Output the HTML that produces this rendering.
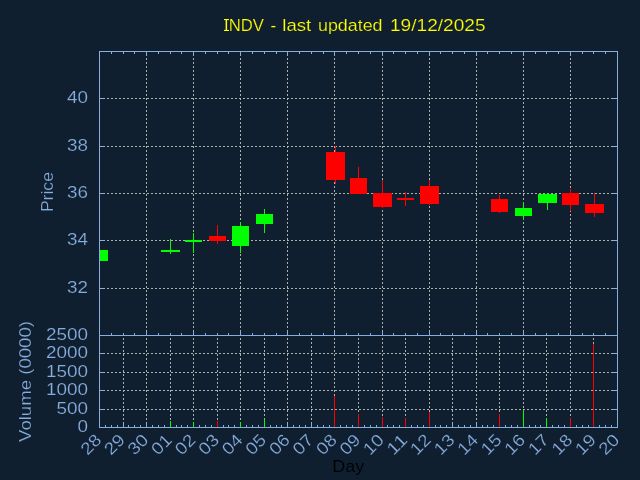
<!DOCTYPE html>
<html><head><meta charset="utf-8"><style>
html,body{margin:0;padding:0;background:#101f30;width:640px;height:480px;overflow:hidden;}
svg{display:block;will-change:transform;font-family:"Liberation Sans", sans-serif;}
</style></head><body>
<svg width="640" height="480" viewBox="0 0 640 480" shape-rendering="crispEdges">
<rect x="0" y="0" width="640" height="480" fill="#101f30"/>
<g stroke="#b0b0ab" stroke-width="1" stroke-dasharray="2 2"><line x1="99" y1="288.5" x2="617" y2="288.5"/><line x1="99" y1="240.5" x2="617" y2="240.5"/><line x1="99" y1="193.5" x2="617" y2="193.5"/><line x1="99" y1="146.5" x2="617" y2="146.5"/><line x1="99" y1="98.5" x2="617" y2="98.5"/><line x1="146.5" y1="51" x2="146.5" y2="335" stroke-dashoffset="1"/><line x1="193.5" y1="51" x2="193.5" y2="335" stroke-dashoffset="1"/><line x1="240.5" y1="51" x2="240.5" y2="335" stroke-dashoffset="1"/><line x1="287.5" y1="51" x2="287.5" y2="335" stroke-dashoffset="1"/><line x1="334.5" y1="51" x2="334.5" y2="335" stroke-dashoffset="1"/><line x1="382.5" y1="51" x2="382.5" y2="335" stroke-dashoffset="1"/><line x1="429.5" y1="51" x2="429.5" y2="335" stroke-dashoffset="1"/><line x1="476.5" y1="51" x2="476.5" y2="335" stroke-dashoffset="1"/><line x1="523.5" y1="51" x2="523.5" y2="335" stroke-dashoffset="1"/><line x1="570.5" y1="51" x2="570.5" y2="335" stroke-dashoffset="1"/><line x1="99" y1="409.5" x2="617" y2="409.5"/><line x1="99" y1="390.5" x2="617" y2="390.5"/><line x1="99" y1="372.5" x2="617" y2="372.5"/><line x1="99" y1="353.5" x2="617" y2="353.5"/><line x1="123.5" y1="335" x2="123.5" y2="427" stroke-dashoffset="1"/><line x1="146.5" y1="335" x2="146.5" y2="427" stroke-dashoffset="1"/><line x1="170.5" y1="335" x2="170.5" y2="427" stroke-dashoffset="1"/><line x1="193.5" y1="335" x2="193.5" y2="427" stroke-dashoffset="1"/><line x1="217.5" y1="335" x2="217.5" y2="427" stroke-dashoffset="1"/><line x1="240.5" y1="335" x2="240.5" y2="427" stroke-dashoffset="1"/><line x1="264.5" y1="335" x2="264.5" y2="427" stroke-dashoffset="1"/><line x1="287.5" y1="335" x2="287.5" y2="427" stroke-dashoffset="1"/><line x1="311.5" y1="335" x2="311.5" y2="427" stroke-dashoffset="1"/><line x1="334.5" y1="335" x2="334.5" y2="427" stroke-dashoffset="1"/><line x1="358.5" y1="335" x2="358.5" y2="427" stroke-dashoffset="1"/><line x1="382.5" y1="335" x2="382.5" y2="427" stroke-dashoffset="1"/><line x1="405.5" y1="335" x2="405.5" y2="427" stroke-dashoffset="1"/><line x1="429.5" y1="335" x2="429.5" y2="427" stroke-dashoffset="1"/><line x1="452.5" y1="335" x2="452.5" y2="427" stroke-dashoffset="1"/><line x1="476.5" y1="335" x2="476.5" y2="427" stroke-dashoffset="1"/><line x1="499.5" y1="335" x2="499.5" y2="427" stroke-dashoffset="1"/><line x1="523.5" y1="335" x2="523.5" y2="427" stroke-dashoffset="1"/><line x1="546.5" y1="335" x2="546.5" y2="427" stroke-dashoffset="1"/><line x1="570.5" y1="335" x2="570.5" y2="427" stroke-dashoffset="1"/><line x1="593.5" y1="335" x2="593.5" y2="427" stroke-dashoffset="1"/></g>
<rect x="100" y="250" width="8" height="11" fill="#00ff00"/>
<rect x="170" y="239" width="1" height="15" fill="#00ff00"/>
<rect x="161" y="250" width="19" height="2" fill="#00ff00"/>
<rect x="193" y="233" width="1" height="20" fill="#00ff00"/>
<rect x="185" y="240" width="17" height="2" fill="#00ff00"/>
<rect x="217" y="225" width="1" height="19" fill="#ff0000"/>
<rect x="209" y="236" width="17" height="5" fill="#ff0000"/>
<rect x="240" y="222" width="1" height="31" fill="#00ff00"/>
<rect x="232" y="226" width="17" height="20" fill="#00ff00"/>
<rect x="264" y="209" width="1" height="24" fill="#00ff00"/>
<rect x="256" y="214" width="17" height="10" fill="#00ff00"/>
<rect x="335" y="146" width="1" height="38" fill="#ff0000"/>
<rect x="326" y="152" width="19" height="28" fill="#ff0000"/>
<rect x="358" y="167" width="1" height="27" fill="#ff0000"/>
<rect x="350" y="178" width="17" height="16" fill="#ff0000"/>
<rect x="382" y="180" width="1" height="28" fill="#ff0000"/>
<rect x="373" y="193" width="19" height="14" fill="#ff0000"/>
<rect x="405" y="192" width="1" height="14" fill="#ff0000"/>
<rect x="397" y="198" width="17" height="2" fill="#ff0000"/>
<rect x="429" y="180" width="1" height="25" fill="#ff0000"/>
<rect x="420" y="186" width="19" height="18" fill="#ff0000"/>
<rect x="499" y="195" width="1" height="18" fill="#ff0000"/>
<rect x="491" y="199" width="17" height="13" fill="#ff0000"/>
<rect x="523" y="202" width="1" height="18" fill="#00ff00"/>
<rect x="515" y="208" width="17" height="8" fill="#00ff00"/>
<rect x="547" y="193" width="1" height="17" fill="#00ff00"/>
<rect x="538" y="194" width="19" height="9" fill="#00ff00"/>
<rect x="570" y="189" width="1" height="22" fill="#ff0000"/>
<rect x="562" y="193" width="17" height="12" fill="#ff0000"/>
<rect x="594" y="193" width="1" height="24" fill="#ff0000"/>
<rect x="585" y="204" width="19" height="9" fill="#ff0000"/>
<g fill="#87afde"><rect x="111" y="52" width="1" height="2"/><rect x="111" y="333" width="1" height="2"/><rect x="123" y="52" width="1" height="2"/><rect x="123" y="333" width="1" height="2"/><rect x="134" y="52" width="1" height="2"/><rect x="134" y="333" width="1" height="2"/><rect x="146" y="52" width="1" height="4"/><rect x="146" y="331" width="1" height="4"/><rect x="158" y="52" width="1" height="2"/><rect x="158" y="333" width="1" height="2"/><rect x="170" y="52" width="1" height="2"/><rect x="170" y="333" width="1" height="2"/><rect x="181" y="52" width="1" height="2"/><rect x="181" y="333" width="1" height="2"/><rect x="193" y="52" width="1" height="4"/><rect x="193" y="331" width="1" height="4"/><rect x="205" y="52" width="1" height="2"/><rect x="205" y="333" width="1" height="2"/><rect x="217" y="52" width="1" height="2"/><rect x="217" y="333" width="1" height="2"/><rect x="228" y="52" width="1" height="2"/><rect x="228" y="333" width="1" height="2"/><rect x="240" y="52" width="1" height="4"/><rect x="240" y="331" width="1" height="4"/><rect x="252" y="52" width="1" height="2"/><rect x="252" y="333" width="1" height="2"/><rect x="264" y="52" width="1" height="2"/><rect x="264" y="333" width="1" height="2"/><rect x="276" y="52" width="1" height="2"/><rect x="276" y="333" width="1" height="2"/><rect x="287" y="52" width="1" height="4"/><rect x="287" y="331" width="1" height="4"/><rect x="299" y="52" width="1" height="2"/><rect x="299" y="333" width="1" height="2"/><rect x="311" y="52" width="1" height="2"/><rect x="311" y="333" width="1" height="2"/><rect x="323" y="52" width="1" height="2"/><rect x="323" y="333" width="1" height="2"/><rect x="334" y="52" width="1" height="4"/><rect x="334" y="331" width="1" height="4"/><rect x="346" y="52" width="1" height="2"/><rect x="346" y="333" width="1" height="2"/><rect x="358" y="52" width="1" height="2"/><rect x="358" y="333" width="1" height="2"/><rect x="370" y="52" width="1" height="2"/><rect x="370" y="333" width="1" height="2"/><rect x="382" y="52" width="1" height="4"/><rect x="382" y="331" width="1" height="4"/><rect x="393" y="52" width="1" height="2"/><rect x="393" y="333" width="1" height="2"/><rect x="405" y="52" width="1" height="2"/><rect x="405" y="333" width="1" height="2"/><rect x="417" y="52" width="1" height="2"/><rect x="417" y="333" width="1" height="2"/><rect x="429" y="52" width="1" height="4"/><rect x="429" y="331" width="1" height="4"/><rect x="440" y="52" width="1" height="2"/><rect x="440" y="333" width="1" height="2"/><rect x="452" y="52" width="1" height="2"/><rect x="452" y="333" width="1" height="2"/><rect x="464" y="52" width="1" height="2"/><rect x="464" y="333" width="1" height="2"/><rect x="476" y="52" width="1" height="4"/><rect x="476" y="331" width="1" height="4"/><rect x="487" y="52" width="1" height="2"/><rect x="487" y="333" width="1" height="2"/><rect x="499" y="52" width="1" height="2"/><rect x="499" y="333" width="1" height="2"/><rect x="511" y="52" width="1" height="2"/><rect x="511" y="333" width="1" height="2"/><rect x="523" y="52" width="1" height="4"/><rect x="523" y="331" width="1" height="4"/><rect x="535" y="52" width="1" height="2"/><rect x="535" y="333" width="1" height="2"/><rect x="546" y="52" width="1" height="2"/><rect x="546" y="333" width="1" height="2"/><rect x="558" y="52" width="1" height="2"/><rect x="558" y="333" width="1" height="2"/><rect x="570" y="52" width="1" height="4"/><rect x="570" y="331" width="1" height="4"/><rect x="582" y="52" width="1" height="2"/><rect x="582" y="333" width="1" height="2"/><rect x="593" y="52" width="1" height="2"/><rect x="593" y="333" width="1" height="2"/><rect x="605" y="52" width="1" height="2"/><rect x="605" y="333" width="1" height="2"/><rect x="105" y="425" width="1" height="2"/><rect x="111" y="425" width="1" height="2"/><rect x="117" y="425" width="1" height="2"/><rect x="123" y="423" width="1" height="4"/><rect x="128" y="425" width="1" height="2"/><rect x="134" y="425" width="1" height="2"/><rect x="140" y="425" width="1" height="2"/><rect x="146" y="423" width="1" height="4"/><rect x="152" y="425" width="1" height="2"/><rect x="158" y="425" width="1" height="2"/><rect x="164" y="425" width="1" height="2"/><rect x="170" y="423" width="1" height="4"/><rect x="176" y="425" width="1" height="2"/><rect x="181" y="425" width="1" height="2"/><rect x="187" y="425" width="1" height="2"/><rect x="193" y="423" width="1" height="4"/><rect x="199" y="425" width="1" height="2"/><rect x="205" y="425" width="1" height="2"/><rect x="211" y="425" width="1" height="2"/><rect x="217" y="423" width="1" height="4"/><rect x="223" y="425" width="1" height="2"/><rect x="228" y="425" width="1" height="2"/><rect x="234" y="425" width="1" height="2"/><rect x="240" y="423" width="1" height="4"/><rect x="246" y="425" width="1" height="2"/><rect x="252" y="425" width="1" height="2"/><rect x="258" y="425" width="1" height="2"/><rect x="264" y="423" width="1" height="4"/><rect x="270" y="425" width="1" height="2"/><rect x="276" y="425" width="1" height="2"/><rect x="281" y="425" width="1" height="2"/><rect x="287" y="423" width="1" height="4"/><rect x="293" y="425" width="1" height="2"/><rect x="299" y="425" width="1" height="2"/><rect x="305" y="425" width="1" height="2"/><rect x="311" y="423" width="1" height="4"/><rect x="317" y="425" width="1" height="2"/><rect x="323" y="425" width="1" height="2"/><rect x="329" y="425" width="1" height="2"/><rect x="334" y="423" width="1" height="4"/><rect x="340" y="425" width="1" height="2"/><rect x="346" y="425" width="1" height="2"/><rect x="352" y="425" width="1" height="2"/><rect x="358" y="423" width="1" height="4"/><rect x="364" y="425" width="1" height="2"/><rect x="370" y="425" width="1" height="2"/><rect x="376" y="425" width="1" height="2"/><rect x="382" y="423" width="1" height="4"/><rect x="387" y="425" width="1" height="2"/><rect x="393" y="425" width="1" height="2"/><rect x="399" y="425" width="1" height="2"/><rect x="405" y="423" width="1" height="4"/><rect x="411" y="425" width="1" height="2"/><rect x="417" y="425" width="1" height="2"/><rect x="423" y="425" width="1" height="2"/><rect x="429" y="423" width="1" height="4"/><rect x="435" y="425" width="1" height="2"/><rect x="440" y="425" width="1" height="2"/><rect x="446" y="425" width="1" height="2"/><rect x="452" y="423" width="1" height="4"/><rect x="458" y="425" width="1" height="2"/><rect x="464" y="425" width="1" height="2"/><rect x="470" y="425" width="1" height="2"/><rect x="476" y="423" width="1" height="4"/><rect x="482" y="425" width="1" height="2"/><rect x="487" y="425" width="1" height="2"/><rect x="493" y="425" width="1" height="2"/><rect x="499" y="423" width="1" height="4"/><rect x="505" y="425" width="1" height="2"/><rect x="511" y="425" width="1" height="2"/><rect x="517" y="425" width="1" height="2"/><rect x="523" y="423" width="1" height="4"/><rect x="529" y="425" width="1" height="2"/><rect x="535" y="425" width="1" height="2"/><rect x="540" y="425" width="1" height="2"/><rect x="546" y="423" width="1" height="4"/><rect x="552" y="425" width="1" height="2"/><rect x="558" y="425" width="1" height="2"/><rect x="564" y="425" width="1" height="2"/><rect x="570" y="423" width="1" height="4"/><rect x="576" y="425" width="1" height="2"/><rect x="582" y="425" width="1" height="2"/><rect x="588" y="425" width="1" height="2"/><rect x="593" y="423" width="1" height="4"/><rect x="599" y="425" width="1" height="2"/><rect x="605" y="425" width="1" height="2"/><rect x="611" y="425" width="1" height="2"/><rect x="100" y="288" width="4" height="1"/><rect x="613" y="288" width="4" height="1"/><rect x="100" y="240" width="4" height="1"/><rect x="613" y="240" width="4" height="1"/><rect x="100" y="193" width="4" height="1"/><rect x="613" y="193" width="4" height="1"/><rect x="100" y="146" width="4" height="1"/><rect x="613" y="146" width="4" height="1"/><rect x="100" y="98" width="4" height="1"/><rect x="613" y="98" width="4" height="1"/><rect x="100" y="409" width="4" height="1"/><rect x="613" y="409" width="4" height="1"/><rect x="100" y="390" width="4" height="1"/><rect x="613" y="390" width="4" height="1"/><rect x="100" y="372" width="4" height="1"/><rect x="613" y="372" width="4" height="1"/><rect x="100" y="353" width="4" height="1"/><rect x="613" y="353" width="4" height="1"/></g>
<rect x="170" y="421" width="1" height="6" fill="#00ff00"/>
<rect x="193" y="422" width="1" height="5" fill="#00ff00"/>
<rect x="217" y="421" width="1" height="6" fill="#ff0000"/>
<rect x="240" y="422" width="1" height="5" fill="#00ff00"/>
<rect x="264" y="419" width="1" height="8" fill="#00ff00"/>
<rect x="334" y="396" width="1" height="31" fill="#ff0000"/>
<rect x="358" y="414" width="1" height="13" fill="#ff0000"/>
<rect x="382" y="417" width="1" height="10" fill="#ff0000"/>
<rect x="405" y="418" width="1" height="9" fill="#ff0000"/>
<rect x="429" y="412" width="1" height="15" fill="#ff0000"/>
<rect x="499" y="414" width="1" height="13" fill="#ff0000"/>
<rect x="523" y="410" width="1" height="17" fill="#00ff00"/>
<rect x="546" y="418" width="1" height="9" fill="#00ff00"/>
<rect x="570" y="418" width="1" height="9" fill="#ff0000"/>
<rect x="593" y="344" width="1" height="83" fill="#ff0000"/>
<g fill="#87afde"><rect x="99" y="51" width="519" height="1"/><rect x="99" y="335" width="519" height="1"/><rect x="99" y="427" width="519" height="1"/><rect x="99" y="51" width="1" height="377"/><rect x="617" y="51" width="1" height="377"/></g>
<g font-family="Liberation Sans, sans-serif" font-size="17" fill="#87afde" stroke="#101f30" stroke-width="0.2"><text x="228.8" y="31" fill="#ffff00" textLength="35.2" lengthAdjust="spacingAndGlyphs">NDV</text><text x="270.6" y="31" fill="#ffff00" textLength="5.66" lengthAdjust="spacingAndGlyphs">-</text><text x="282.3" y="31" fill="#ffff00" textLength="29" lengthAdjust="spacingAndGlyphs">last</text><text x="318" y="31" fill="#ffff00" textLength="64.5" lengthAdjust="spacingAndGlyphs">updated</text><text x="390" y="31" fill="#ffff00" textLength="95.5" lengthAdjust="spacingAndGlyphs">19/12/2025</text><text x="88" y="293" text-anchor="end" textLength="21" lengthAdjust="spacingAndGlyphs">32</text><text x="88" y="245" text-anchor="end" textLength="21" lengthAdjust="spacingAndGlyphs">34</text><text x="88" y="198" text-anchor="end" textLength="21" lengthAdjust="spacingAndGlyphs">36</text><text x="88" y="151" text-anchor="end" textLength="21" lengthAdjust="spacingAndGlyphs">38</text><text x="88" y="103" text-anchor="end" textLength="21" lengthAdjust="spacingAndGlyphs">40</text><text x="88" y="432" text-anchor="end" textLength="10.5" lengthAdjust="spacingAndGlyphs">0</text><text x="88" y="414" text-anchor="end" textLength="31.5" lengthAdjust="spacingAndGlyphs">500</text><text x="88" y="395" text-anchor="end" textLength="42.0" lengthAdjust="spacingAndGlyphs">1000</text><text x="88" y="377" text-anchor="end" textLength="42.0" lengthAdjust="spacingAndGlyphs">1500</text><text x="88" y="358" text-anchor="end" textLength="42.0" lengthAdjust="spacingAndGlyphs">2000</text><text x="88" y="340" text-anchor="end" textLength="42.0" lengthAdjust="spacingAndGlyphs">2500</text><text transform="translate(53,192.1) rotate(-90)" text-anchor="middle" textLength="40" lengthAdjust="spacingAndGlyphs">Price</text><text transform="translate(31,381.5) rotate(-90)" text-anchor="middle" textLength="121" lengthAdjust="spacingAndGlyphs">Volume (0000)</text><text transform="translate(94.0,432.5) rotate(-45)" text-anchor="end" dominant-baseline="hanging" textLength="21.2" lengthAdjust="spacingAndGlyphs">28</text><text transform="translate(117.5,432.5) rotate(-45)" text-anchor="end" dominant-baseline="hanging" textLength="21.2" lengthAdjust="spacingAndGlyphs">29</text><text transform="translate(141.1,432.5) rotate(-45)" text-anchor="end" dominant-baseline="hanging" textLength="21.2" lengthAdjust="spacingAndGlyphs">30</text><text transform="translate(164.6,432.5) rotate(-45)" text-anchor="end" dominant-baseline="hanging" textLength="21.2" lengthAdjust="spacingAndGlyphs">01</text><text transform="translate(188.2,432.5) rotate(-45)" text-anchor="end" dominant-baseline="hanging" textLength="21.2" lengthAdjust="spacingAndGlyphs">02</text><text transform="translate(211.7,432.5) rotate(-45)" text-anchor="end" dominant-baseline="hanging" textLength="21.2" lengthAdjust="spacingAndGlyphs">03</text><text transform="translate(235.3,432.5) rotate(-45)" text-anchor="end" dominant-baseline="hanging" textLength="21.2" lengthAdjust="spacingAndGlyphs">04</text><text transform="translate(258.8,432.5) rotate(-45)" text-anchor="end" dominant-baseline="hanging" textLength="21.2" lengthAdjust="spacingAndGlyphs">05</text><text transform="translate(282.4,432.5) rotate(-45)" text-anchor="end" dominant-baseline="hanging" textLength="21.2" lengthAdjust="spacingAndGlyphs">06</text><text transform="translate(305.9,432.5) rotate(-45)" text-anchor="end" dominant-baseline="hanging" textLength="21.2" lengthAdjust="spacingAndGlyphs">07</text><text transform="translate(329.5,432.5) rotate(-45)" text-anchor="end" dominant-baseline="hanging" textLength="21.2" lengthAdjust="spacingAndGlyphs">08</text><text transform="translate(353.0,432.5) rotate(-45)" text-anchor="end" dominant-baseline="hanging" textLength="21.2" lengthAdjust="spacingAndGlyphs">09</text><text transform="translate(376.5,432.5) rotate(-45)" text-anchor="end" dominant-baseline="hanging" textLength="21.2" lengthAdjust="spacingAndGlyphs">10</text><text transform="translate(400.1,432.5) rotate(-45)" text-anchor="end" dominant-baseline="hanging" textLength="21.2" lengthAdjust="spacingAndGlyphs">11</text><text transform="translate(423.6,432.5) rotate(-45)" text-anchor="end" dominant-baseline="hanging" textLength="21.2" lengthAdjust="spacingAndGlyphs">12</text><text transform="translate(447.2,432.5) rotate(-45)" text-anchor="end" dominant-baseline="hanging" textLength="21.2" lengthAdjust="spacingAndGlyphs">13</text><text transform="translate(470.7,432.5) rotate(-45)" text-anchor="end" dominant-baseline="hanging" textLength="21.2" lengthAdjust="spacingAndGlyphs">14</text><text transform="translate(494.3,432.5) rotate(-45)" text-anchor="end" dominant-baseline="hanging" textLength="21.2" lengthAdjust="spacingAndGlyphs">15</text><text transform="translate(517.8,432.5) rotate(-45)" text-anchor="end" dominant-baseline="hanging" textLength="21.2" lengthAdjust="spacingAndGlyphs">16</text><text transform="translate(541.4,432.5) rotate(-45)" text-anchor="end" dominant-baseline="hanging" textLength="21.2" lengthAdjust="spacingAndGlyphs">17</text><text transform="translate(564.9,432.5) rotate(-45)" text-anchor="end" dominant-baseline="hanging" textLength="21.2" lengthAdjust="spacingAndGlyphs">18</text><text transform="translate(588.4,432.5) rotate(-45)" text-anchor="end" dominant-baseline="hanging" textLength="21.2" lengthAdjust="spacingAndGlyphs">19</text><text transform="translate(612.0,432.5) rotate(-45)" text-anchor="end" dominant-baseline="hanging" textLength="21.2" lengthAdjust="spacingAndGlyphs">20</text><text x="348.2" y="471.5" fill="#000000" text-anchor="middle" textLength="32" lengthAdjust="spacingAndGlyphs">Day</text></g>
<g fill="#ffff00" shape-rendering="geometricPrecision"><rect x="224" y="19" width="5" height="1.1"/><rect x="225.6" y="19" width="1.5" height="12"/><rect x="224" y="29.9" width="5" height="1.1"/></g>
</svg>
</body></html>
